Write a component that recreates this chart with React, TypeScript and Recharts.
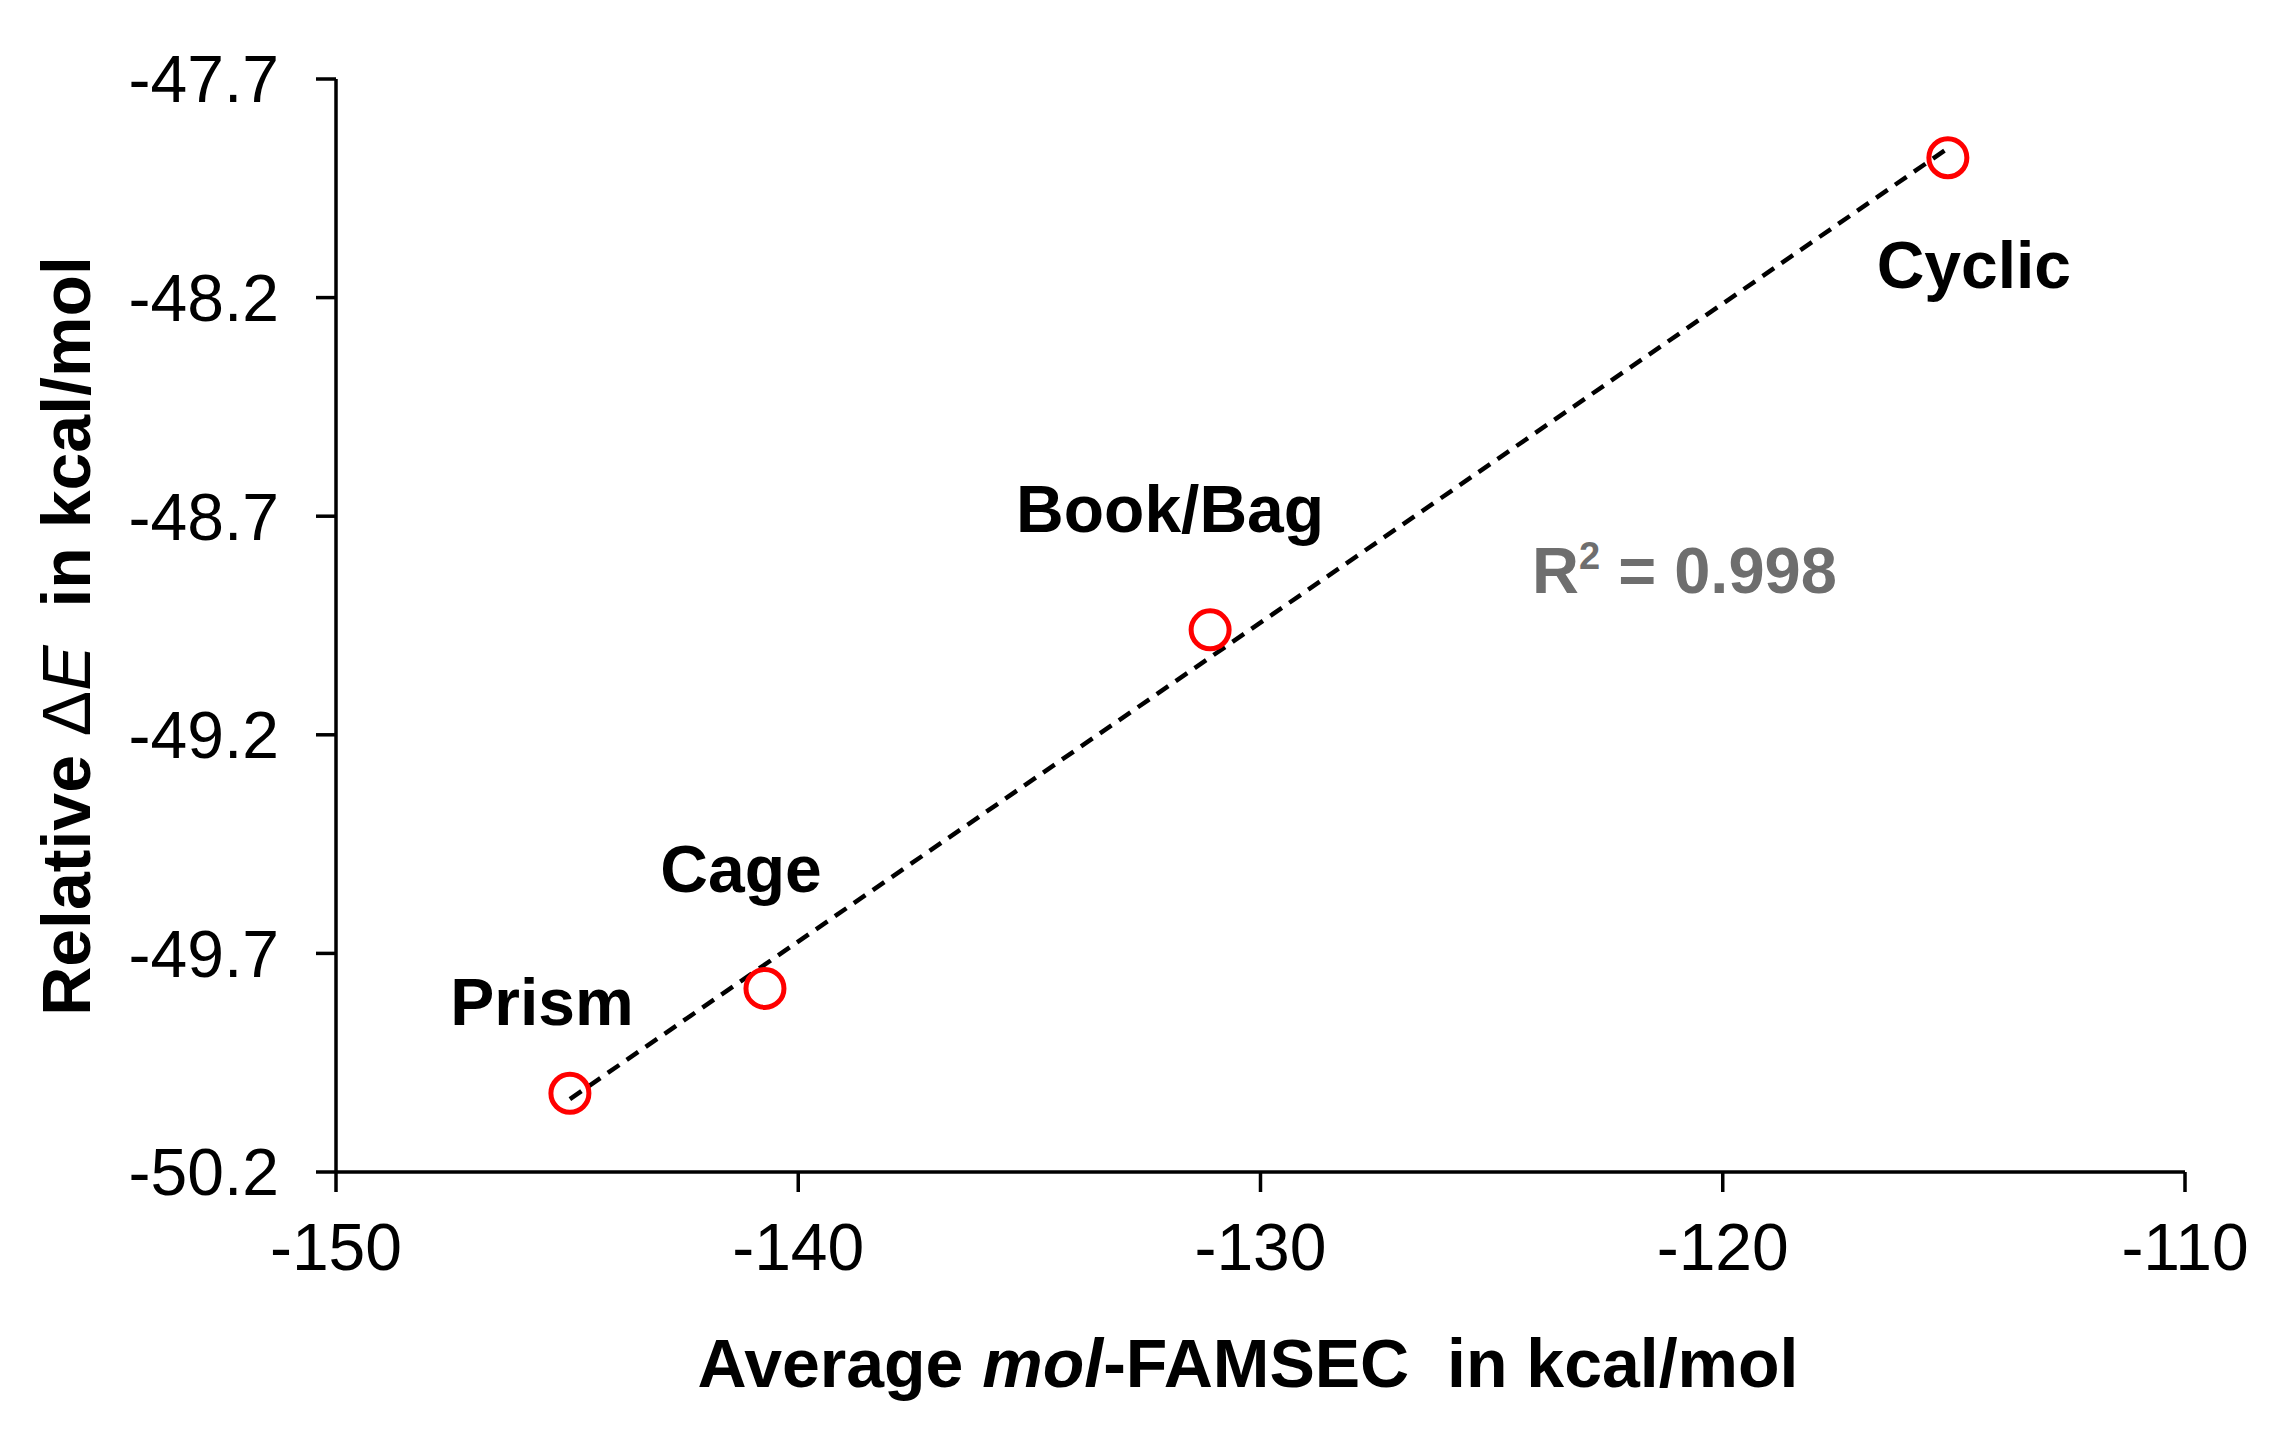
import React from 'react';
import { ScatterChart, Scatter, XAxis, YAxis, ReferenceLine } from 'recharts';

// ---- data ----
const structures = ['Prism', 'Cage', 'Book/Bag', 'Cyclic'];
const famsec = [-144.94, -140.72, -131.09, -115.13];
const relDeltaE = [-50.02, -49.78, -48.96, -47.88];
const xTicks = [-150, -140, -130, -120, -110];
const yTicks = [-50.2, -49.7, -49.2, -48.7, -48.2, -47.7];
const r2Text = '0.998';

const FONT = '"Liberation Sans", Arial, Helvetica, sans-serif';

const data = structures.map((name, i) => ({ name, x: famsec[i], y: relDeltaE[i] }));

// least-squares trend line computed from the data
const n = famsec.length;
const mx = famsec.reduce((a, b) => a + b, 0) / n;
const my = relDeltaE.reduce((a, b) => a + b, 0) / n;
let sxy = 0;
let sxx = 0;
for (let i = 0; i < n; i++) {
  sxy += (famsec[i] - mx) * (relDeltaE[i] - my);
  sxx += (famsec[i] - mx) * (famsec[i] - mx);
}
const slope = sxy / sxx;
const intercept = my - slope * mx;
const xMin = Math.min(...famsec);
const xMax = Math.max(...famsec);
const trendSegment = [
  { x: xMin, y: slope * xMin + intercept },
  { x: xMax, y: slope * xMax + intercept },
];

// label offsets (label centre x, baseline y) relative to each marker
const labelOffsets: Record<string, [number, number]> = {
  Prism: [-28, -68],
  Cage: [-24, -96],
  'Book/Bag': [-40, -98],
  Cyclic: [26, 130],
};

const PointShape = (props: any) => {
  const { cx, cy, payload } = props;
  const off = labelOffsets[payload?.name] || [0, -40];
  return (
    <g>
      <circle cx={cx} cy={cy} r={19} fill="none" stroke="#ff0000" strokeWidth={5} />
      <text
        x={cx + off[0]}
        y={cy + off[1]}
        textAnchor="middle"
        fontFamily={FONT}
        fontWeight="bold"
        fontSize={66}
        fill="#000"
      >
        {payload?.name}
      </text>
    </g>
  );
};

const XTitle = () => (
  <text x={1248} y={1387} textAnchor="middle" fontFamily={FONT} fontSize={68} fill="#000">
    <tspan fontWeight="bold">Average </tspan>
    <tspan fontWeight="bold" fontStyle="italic">mol</tspan>
    <tspan fontWeight="bold">{'-FAMSEC\u00A0\u00A0in kcal/mol'}</tspan>
  </text>
);

const YTitle = () => (
  <text
    x={90}
    y={636}
    textAnchor="middle"
    transform="rotate(-90 90 636)"
    fontFamily={FONT}
    fontSize={68}
    fill="#000"
  >
    <tspan fontWeight="bold">Relative </tspan>
    <tspan>{'\u0394'}</tspan>
    <tspan fontStyle="italic">E</tspan>
    <tspan fontWeight="bold">{'\u00A0\u00A0in kcal/mol'}</tspan>
  </text>
);

const R2Label = () => (
  <text x={1532} y={593} fontFamily={FONT} fontWeight="bold" fontSize={65} fill="#6e6e6e">
    <tspan>R</tspan>
    <tspan fontSize={38} dy={-24}>2</tspan>
    <tspan dy={24}>{' = ' + r2Text}</tspan>
  </text>
);

const axisStroke = { stroke: '#000', strokeWidth: 3.5 };

export default function App() {
  return (
    <div style={{ position: 'absolute', left: 0, top: 0, width: 2280, height: 1430, background: '#fff' }}>
      <ScatterChart
        width={2280}
        height={1430}
        margin={{ top: 79, right: 95, left: 0, bottom: 0 }}
        style={{ fontFamily: FONT }}
      >
        <XAxis
          type="number"
          dataKey="x"
          domain={[-150, -110]}
          ticks={xTicks}
          interval={0}
          height={258}
          tickSize={20}
          tickMargin={31}
          axisLine={axisStroke}
          tickLine={axisStroke}
          tick={{ fontSize: 66, fill: '#000', fontFamily: FONT }}
          allowDataOverflow
          label={<XTitle />}
        />
        <YAxis
          type="number"
          dataKey="y"
          domain={[-50.2, -47.7]}
          ticks={yTicks}
          interval={0}
          width={336}
          tickSize={20}
          tickMargin={37}
          axisLine={axisStroke}
          tickLine={axisStroke}
          tick={{ fontSize: 66, fill: '#000', fontFamily: FONT }}
          tickFormatter={(v: number) => v.toFixed(1)}
          allowDataOverflow
          label={<YTitle />}
        />
        <ReferenceLine
          segment={trendSegment}
          stroke="#000"
          strokeWidth={4.5}
          strokeDasharray="14 9"
          ifOverflow="visible"
          label={<R2Label />}
        />
        <Scatter data={data} shape={PointShape} isAnimationActive={false} />
      </ScatterChart>
    </div>
  );
}
